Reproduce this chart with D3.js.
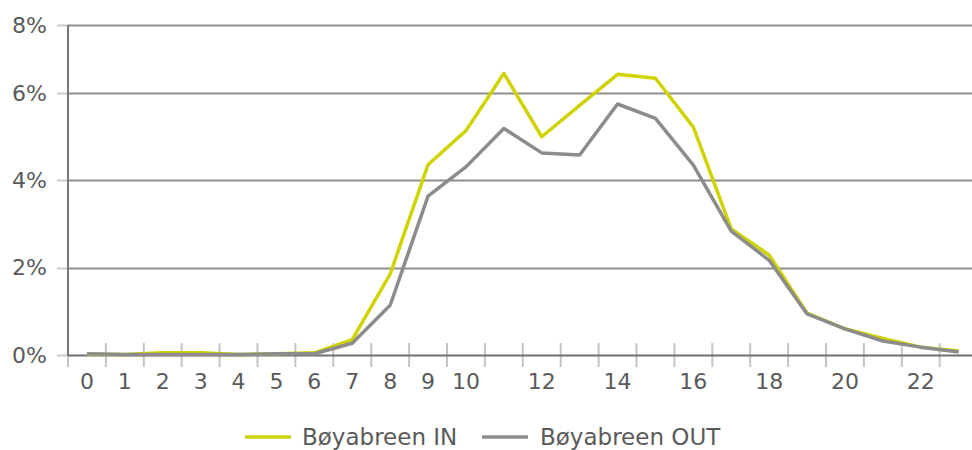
<!DOCTYPE html>
<html>
<head>
<meta charset="utf-8">
<script src="https://cdn.jsdelivr.net/npm/d3@7"></script>
<style>
  html, body { margin: 0; padding: 0; background: #fff; }
  svg { display: block; }
  text { font-family: "DejaVu Sans", Verdana, sans-serif; fill: #5a5a5a; }
</style>
</head>
<body>
<svg id="chart" width="972" height="450"></svg>
<script>
const hours = d3.range(0, 24);
const xTickLabels = [0,1,2,3,4,5,6,7,8,9,10,12,14,16,18,20,22];
const yTickValues = [0, 0.02, 0.04, 0.06, 0.0756];
const seriesNames = ["Bøyabreen IN", "Bøyabreen OUT"];
const seriesColors = ["#cfd400", "#8c8c8c"];
const valuesIn = [0.02,0.01,0.05,0.05,0.01,0.03,0.05,0.35,1.85,4.36,5.14,6.45,5.0,5.72,6.43,6.34,5.22,2.89,2.29,0.96,0.6,0.38,0.18,0.09].map(v => v/100);
const valuesOut = [0.03,0.01,0.01,0.01,0.01,0.03,0.03,0.27,1.14,3.64,4.31,5.19,4.63,4.58,5.75,5.42,4.35,2.84,2.17,0.94,0.6,0.32,0.18,0.07].map(v => v/100);

(function () {
const svg = d3.select("#chart");
const mLeft = 68, mTop = 25, mBottom = 355;
const bandW = 37.9;
const mRight = mLeft + bandW * hours.length;

const x = d3.scaleBand().domain(hours).range([mLeft, mRight]).paddingInner(0).paddingOuter(0);
const y = d3.scaleLinear().domain([0, 0.0756]).range([mBottom, mTop]);

// gridlines
svg.append("g").selectAll("line").data(yTickValues.filter(v => v > 0)).join("line")
  .attr("x1", mLeft).attr("x2", 972)
  .attr("y1", d => Math.round(y(d)) + 0.5).attr("y2", d => Math.round(y(d)) + 0.5)
  .attr("stroke", "#8e8e8e").attr("stroke-width", 2);
// left stubs
svg.append("g").selectAll("line").data(yTickValues).join("line")
  .attr("x1", 57).attr("x2", mLeft)
  .attr("y1", d => Math.round(y(d)) + 0.5).attr("y2", d => Math.round(y(d)) + 0.5)
  .attr("stroke", "#c8c8c8").attr("stroke-width", 2);

// x boundary ticks
svg.append("g").selectAll("line").data(hours).join("line")
  .attr("x1", d => x(d)).attr("x2", d => x(d))
  .attr("y1", 343).attr("y2", 367)
  .attr("stroke", "#c4c4c4").attr("stroke-width", 2);

// y axis labels
const yAxis = d3.axisLeft(y).tickValues(yTickValues).tickFormat(d3.format(".0%")).tickSize(0).tickPadding(21);
const gy = svg.append("g").attr("transform", `translate(${mLeft},0)`).call(yAxis);
gy.select(".domain").remove();
gy.selectAll("text").style("font-size", "22px").attr("fill", "#5a5a5a");

// x axis labels
const xAxis = d3.axisBottom(x).tickValues(xTickLabels).tickSize(0).tickPadding(18);
const gx = svg.append("g").attr("transform", `translate(0,${mBottom})`).call(xAxis);
gx.select(".domain").remove();
gx.selectAll("text").style("font-size", "22px").attr("fill", "#5a5a5a");

// axis lines
svg.append("line").attr("x1", mLeft).attr("x2", 972).attr("y1", mBottom + 0.5).attr("y2", mBottom + 0.5)
  .attr("stroke", "#6e6e6e").attr("stroke-width", 2);
svg.append("line").attr("x1", mLeft).attr("x2", mLeft).attr("y1", mTop).attr("y2", mBottom + 1)
  .attr("stroke", "#777").attr("stroke-width", 2);

// lines
const line = d3.line().x((d, i) => x(hours[i]) + x.bandwidth() / 2).y(d => y(d));
[valuesIn, valuesOut].forEach((vals, k) => {
  svg.append("path").datum(vals).attr("d", line)
    .attr("fill", "none").attr("stroke", seriesColors[k]).attr("stroke-width", 3.5)
    .attr("stroke-linejoin", "round");
});

// legend
const legend = svg.append("g");
const legendItems = [{x: 245, tx: 302}, {x: 482, tx: 540}];
seriesNames.forEach((name, k) => {
  legend.append("line").attr("x1", legendItems[k].x).attr("x2", legendItems[k].x + 46)
    .attr("y1", 437).attr("y2", 437).attr("stroke", seriesColors[k]).attr("stroke-width", 3.5);
  legend.append("text").attr("x", legendItems[k].tx).attr("y", 437).attr("dy", "0.35em")
    .style("font-size", "23px").attr("fill", "#5a5a5a").text(name);
});
})();
</script>
</body>
</html>
